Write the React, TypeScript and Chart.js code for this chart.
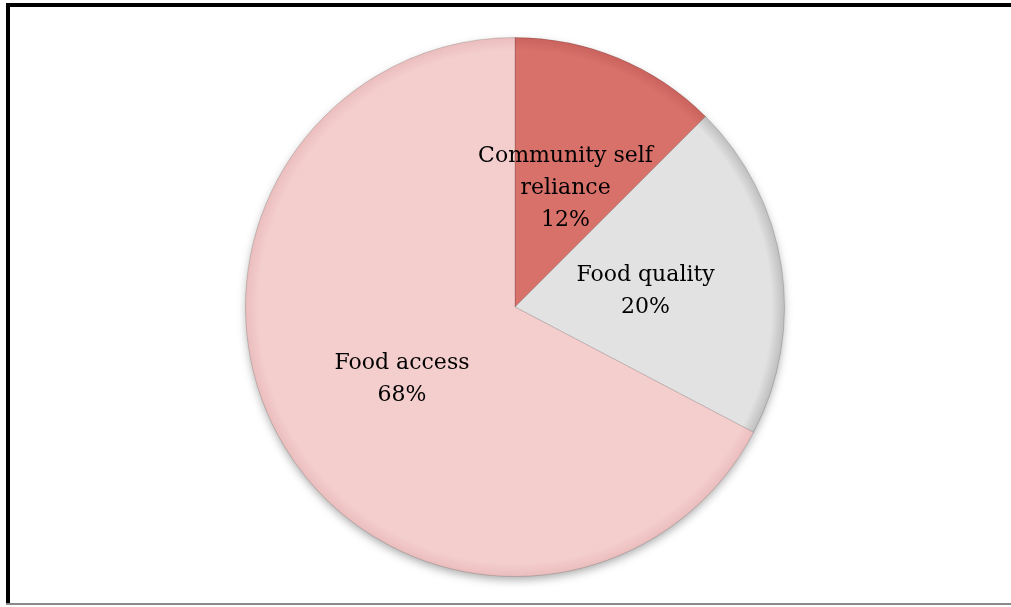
import React, { useEffect, useRef } from "react";
import { Chart, registerables } from "chart.js";

Chart.register(...registerables);

const categories = ["Community self\nreliance", "Food quality", "Food access"];
const values = [12.5, 20.2, 67.3];
const percentLabels = ["12%", "20%", "68%"];
const colors = ["#D9716B", "#E2E2E2", "#F4CDCD"];
const rimDark = ["#C9625C", "#BDBDBD", "#EBBDBD"];

const FONT = "'DejaVu Serif', serif";

const shadowPlugin = {
  id: "pieShadow",
  beforeDatasetsDraw(chart: any) {
    const meta = chart.getDatasetMeta(0);
    const arc = meta.data[0];
    if (!arc) return;
    const { x, y, outerRadius } = arc.getProps(["x", "y", "outerRadius"], true);
    const ctx = chart.ctx;
    ctx.save();
    ctx.shadowColor = "rgba(0,0,0,0.35)";
    ctx.shadowBlur = 10;
    ctx.shadowOffsetY = 4;
    ctx.beginPath();
    ctx.arc(x, y, outerRadius - 1, 0, Math.PI * 2);
    ctx.fillStyle = "#ffffff";
    ctx.fill();
    ctx.restore();
  },
};

const labelPlugin = {
  id: "sliceLabels",
  afterDatasetsDraw(chart: any) {
    const ctx = chart.ctx;
    const meta = chart.getDatasetMeta(0);
    ctx.save();
    ctx.fillStyle = "#000000";
    ctx.textAlign = "center";
    ctx.textBaseline = "alphabetic";
    ctx.font = `22px ${FONT}`;
    const lh = 32;
    meta.data.forEach((arc: any, i: number) => {
      const { x, y, startAngle, endAngle, outerRadius } = arc.getProps(
        ["x", "y", "startAngle", "endAngle", "outerRadius"],
        true
      );
      const mid = (startAngle + endAngle) / 2;
      const r = outerRadius * 0.49;
      const ax = x + Math.cos(mid) * r;
      const ay = y + Math.sin(mid) * r;
      const lines = [...categories[i].split("\n"), percentLabels[i]];
      const n = lines.length;
      lines.forEach((ln, j) => {
        ctx.fillText(ln, ax, ay + 9.5 + (j - (n - 1) / 2) * lh);
      });
    });
    ctx.restore();
  },
};

export default function App() {
  const canvasRef = useRef<HTMLCanvasElement | null>(null);

  useEffect(() => {
    if (!canvasRef.current) return;
    const chart = new Chart(canvasRef.current, {
      type: "pie",
      data: {
        labels: categories,
        datasets: [
          {
            data: values,
            backgroundColor: (c: any) => {
              const i = c.dataIndex;
              const chart = c.chart;
              const area = chart.chartArea;
              if (!area) return colors[i];
              const cx = (area.left + area.right) / 2;
              const cy = (area.top + area.bottom) / 2;
              const r = Math.min(area.right - area.left, area.bottom - area.top) / 2;
              const g = chart.ctx.createRadialGradient(cx, cy, 0, cx, cy, r);
              g.addColorStop(0, colors[i]);
              g.addColorStop(0.95, colors[i]);
              g.addColorStop(1, rimDark[i]);
              return g;
            },
            borderColor: "rgba(0,0,0,0.15)",
            borderWidth: 1,
            hoverOffset: 0,
          },
        ],
      },
      options: {
        responsive: true,
        maintainAspectRatio: false,
        animation: false,
        layout: { padding: { left: 245, right: 226, top: 37, bottom: 30 } },
        plugins: {
          legend: { display: false },
          tooltip: { enabled: false },
          title: { display: false },
        },
        events: [],
      },
      plugins: [shadowPlugin, labelPlugin],
    });
    return () => chart.destroy();
  }, []);

  return (
    <div
      style={{
        position: "absolute",
        left: 0,
        top: 0,
        width: 1011,
        height: 607,
        background: "#ffffff",
        overflow: "hidden",
      }}
    >
      <div style={{ position: "absolute", left: 0, top: 0, width: 1011, height: 607 }}>
        <canvas ref={canvasRef} />
      </div>
      <div style={{ position: "absolute", left: 6, top: 3, width: 1005, height: 4, background: "#000" }} />
      <div style={{ position: "absolute", left: 6, top: 3, width: 4, height: 602, background: "#000" }} />
      <div style={{ position: "absolute", left: 6, top: 603, width: 1005, height: 2, background: "#8a8a8a" }} />
    </div>
  );
}
